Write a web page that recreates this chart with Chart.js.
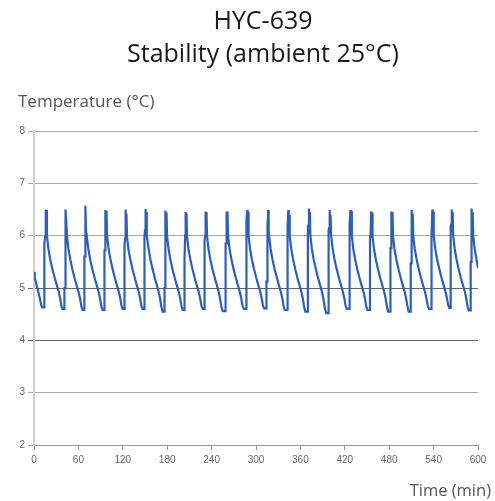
<!DOCTYPE html>
<html>
<head>
<meta charset="utf-8">
<script src="https://cdn.jsdelivr.net/npm/chart.js@4"></script>
<style>
  html, body { margin: 0; padding: 0; background: #fff; }
  #wrap { width: 495px; height: 501px; }
</style>
</head>
<body>
<div id="wrap"><canvas id="chart" width="495" height="501"></canvas></div>
<script>
const titleLines = ["HYC-639", "Stability (ambient 25°C)"];
const yTitle = "Temperature (°C)";
const xTitle = "Time (min)";

// time in minutes
const times = [
  0, 1, 3, 5, 8, 10, 11,
  13.9, 14.0, 15.0, 15.5, 16.2, 16.8, 17.5, 19.4, 21.9, 24.9, 27.9, 30.9, 33.4, 35.4, 36.9, 38.4,
  41.0, 41.1, 41.9, 42.0, 42.6, 43.2, 43.9, 44.6, 46.5, 49.0, 52.0, 55.0, 58.0, 60.5, 62.5, 64.0, 65.5,
  68.0, 68.1, 69.0, 69.1, 69.8, 70.4, 71.2, 73.5, 76.0, 79.0, 82.0, 85.0, 87.5, 89.5, 91.0, 92.6,
  95.1, 95.2, 96.0, 96.1, 96.8, 97.4, 98.0, 98.7, 100.6, 103.1, 106.1, 109.1, 112.1, 114.6, 116.6, 118.1, 119.7,
  122.2, 122.3, 123.1, 123.8, 124.4, 125.0, 125.7, 127.6, 130.1, 133.1, 136.1, 139.1, 141.6, 143.6, 145.1, 146.7,
  149.2, 149.3, 150.1, 150.8, 151.4, 152.0, 152.7, 154.6, 157.1, 160.1, 163.1, 166.1, 168.6, 170.6, 172.1, 173.8,
  176.3, 176.4, 177.1, 177.2, 177.9, 178.5, 179.1, 179.8, 181.7, 184.2, 187.2, 190.2, 193.2, 195.7, 197.7, 199.2, 200.8,
  203.3, 203.4, 204.2, 204.9, 205.5, 206.1, 206.8, 208.7, 211.2, 214.2, 217.2, 220.2, 222.7, 224.7, 226.2, 227.9,
  230.4, 230.5, 231.2, 231.9, 232.5, 233.1, 233.8, 235.7, 238.2, 241.2, 244.2, 247.2, 249.7, 251.7, 253.2, 255.0,
  258.8, 258.9, 259.7, 260.3, 260.9, 261.5, 262.2, 264.1, 266.6, 269.6, 272.6, 275.6, 278.1, 280.1, 281.6, 283.5,
  286.5, 286.6, 287.3, 287.4, 288.1, 288.7, 289.3, 290.0, 291.9, 294.4, 297.4, 300.4, 303.4, 305.9, 307.9, 309.4, 311.0,
  314.0, 314.1, 314.9, 315.0, 315.7, 315.8, 316.5, 317.1, 317.8, 319.7, 322.2, 325.2, 328.2, 331.2, 333.7, 335.7, 337.2, 338.8,
  342.0, 342.1, 342.9, 343.0, 343.7, 344.3, 344.9, 345.6, 347.5, 350.0, 353.0, 356.0, 359.0, 361.5, 363.5, 365.0, 366.6,
  370.0, 370.1, 370.9, 371.6, 372.2, 372.8, 373.5, 375.4, 377.9, 380.9, 383.9, 386.9, 389.4, 391.4, 392.9, 394.8,
  398.0, 398.1, 398.9, 399.6, 400.2, 400.8, 401.5, 403.4, 405.9, 408.9, 411.9, 414.9, 417.4, 419.4, 420.9, 422.6,
  426.0, 426.1, 426.9, 427.6, 428.2, 428.8, 429.5, 431.4, 433.9, 436.9, 439.9, 442.9, 445.4, 447.4, 448.9, 450.6,
  454.0, 454.1, 454.9, 455.6, 456.2, 456.8, 457.5, 459.4, 461.9, 464.9, 467.9, 470.9, 473.4, 475.4, 476.9, 478.6,
  481.6, 481.7, 482.5, 482.6, 483.3, 483.9, 484.5, 485.2, 487.1, 489.6, 492.6, 495.6, 498.6, 501.1, 503.1, 504.6, 506.3,
  509.0, 509.1, 509.9, 510.0, 510.7, 511.3, 511.9, 512.6, 514.5, 517.0, 520.0, 523.0, 526.0, 528.5, 530.5, 532.0, 533.8,
  536.7, 536.8, 537.6, 538.3, 538.9, 539.5, 540.2, 542.1, 544.6, 547.6, 550.6, 553.6, 556.1, 558.1, 559.6, 561.2,
  563.0, 563.1, 563.9, 564.6, 565.2, 565.8, 566.5, 568.4, 570.9, 573.9, 576.9, 579.9, 582.4, 584.4, 585.9, 587.6,
  590.0, 590.1, 590.9, 591.0, 591.6, 592.2, 592.8, 593.5, 595.4, 597.9, 600
];

// temperature in °C
const temps = [
  5.31, 5.2, 5.08, 4.97, 4.8, 4.66, 4.63,
  4.63, 5.85, 5.98, 6.5, 6.0, 6.49, 6.0, 5.76, 5.55, 5.36, 5.2, 5.05, 4.93, 4.8, 4.66, 4.6,
  4.6, 5.0, 5.0, 6.1, 6.25, 6.5, 6.2, 5.98, 5.75, 5.55, 5.35, 5.18, 5.03, 4.91, 4.78, 4.65, 4.58,
  4.58, 5.6, 5.6, 6.25, 6.57, 6.05, 6.0, 5.74, 5.54, 5.35, 5.19, 5.04, 4.92, 4.78, 4.65, 4.58,
  4.58, 5.72, 5.72, 6.3, 6.49, 6.05, 6.47, 6.0, 5.77, 5.56, 5.37, 5.2, 5.05, 4.93, 4.8, 4.67, 4.6,
  4.6, 5.8, 5.95, 6.5, 6.0, 6.42, 5.98, 5.74, 5.55, 5.36, 5.2, 5.04, 4.92, 4.79, 4.66, 4.6,
  4.6, 6.0, 6.1, 6.51, 6.0, 6.45, 6.0, 5.77, 5.56, 5.37, 5.2, 5.05, 4.92, 4.78, 4.64, 4.55,
  4.55, 5.0, 5.0, 6.1, 6.48, 6.02, 6.44, 6.0, 5.76, 5.55, 5.36, 5.19, 5.04, 4.92, 4.79, 4.66, 4.58,
  4.58, 5.55, 6.0, 6.45, 6.0, 6.43, 5.98, 5.75, 5.55, 5.36, 5.19, 5.04, 4.92, 4.79, 4.66, 4.6,
  4.6, 5.9, 6.0, 6.46, 6.0, 6.45, 6.0, 5.76, 5.55, 5.36, 5.2, 5.05, 4.92, 4.78, 4.64, 4.56,
  4.56, 5.85, 5.85, 6.46, 5.85, 6.46, 6.0, 5.76, 5.56, 5.37, 5.2, 5.05, 4.93, 4.8, 4.67, 4.6,
  4.6, 5.45, 5.45, 6.3, 6.49, 6.05, 6.45, 6.0, 5.75, 5.55, 5.36, 5.19, 5.04, 4.92, 4.79, 4.66, 4.61,
  4.61, 5.12, 5.12, 5.69, 5.69, 6.17, 6.49, 6.1, 5.98, 5.75, 5.55, 5.36, 5.2, 5.04, 4.92, 4.79, 4.66, 4.58,
  4.58, 5.5, 5.5, 6.17, 6.49, 6.05, 6.4, 6.0, 5.76, 5.56, 5.36, 5.19, 5.04, 4.92, 4.78, 4.64, 4.55,
  4.55, 6.17, 6.2, 6.52, 6.05, 6.45, 6.0, 5.76, 5.55, 5.36, 5.19, 5.04, 4.91, 4.77, 4.62, 4.52,
  4.52, 6.11, 6.15, 6.49, 6.05, 6.4, 6.0, 5.77, 5.56, 5.37, 5.2, 5.05, 4.93, 4.8, 4.67, 4.6,
  4.6, 6.17, 6.2, 6.49, 6.05, 6.47, 6.0, 5.75, 5.55, 5.36, 5.19, 5.04, 4.92, 4.79, 4.65, 4.58,
  4.58, 5.98, 6.02, 6.46, 6.0, 6.44, 5.98, 5.75, 5.55, 5.36, 5.19, 5.04, 4.92, 4.78, 4.64, 4.55,
  4.55, 5.76, 5.76, 5.98, 6.46, 6.0, 6.45, 5.98, 5.75, 5.55, 5.36, 5.19, 5.04, 4.92, 4.78, 4.65, 4.55,
  4.55, 5.47, 5.47, 5.98, 6.49, 6.0, 6.42, 5.98, 5.75, 5.55, 5.36, 5.19, 5.04, 4.92, 4.79, 4.66, 4.6,
  4.6, 5.95, 6.0, 6.5, 6.0, 6.46, 6.0, 5.76, 5.56, 5.37, 5.2, 5.05, 4.93, 4.8, 4.68, 4.62,
  4.62, 6.19, 6.22, 6.5, 6.08, 6.45, 6.0, 5.76, 5.55, 5.36, 5.19, 5.04, 4.92, 4.78, 4.64, 4.57,
  4.57, 5.5, 5.5, 6.36, 6.52, 6.1, 6.45, 6.0, 5.76, 5.55, 5.38
];

const xMin = 0, xMax = 600, xStep = 60;
const yMin = 2, yMax = 8, yStep = 1;

const texts = {
  id: "texts",
  afterDraw(chart) {
    const c = chart.ctx;
    c.save();
    c.fillStyle = "#1a1a1a";
    c.textAlign = "center";
    c.textBaseline = "middle";
    c.font = "25px 'Open Sans'";
    c.fillText(titleLines[0], 263, 22);
    c.fillText(titleLines[1], 263, 55);
    c.fillStyle = "#555";
    c.font = "17px 'Open Sans'";
    c.textAlign = "left";
    c.fillText(yTitle, 18, 102);
    c.font = "16.5px 'Open Sans'";
    c.textAlign = "right";
    c.fillText(xTitle, 491, 491);
    c.restore();
  }
};

new Chart(document.getElementById("chart"), {
  type: "line",
  data: {
    datasets: [{
      data: times.map((t, i) => ({ x: t, y: temps[i] })),
      borderColor: "#2f5fb3",
      borderWidth: 2.2,
      pointRadius: 0,
      tension: 0,
      fill: false
    }]
  },
  options: {
    responsive: false,
    animation: false,
    layout: { padding: { top: 131, right: 17, bottom: 0, left: 0 } },
    plugins: { legend: { display: false }, tooltip: { enabled: false }, title: { display: false } },
    scales: {
      x: {
        type: "linear",
        min: xMin, max: xMax,
        afterFit(s) { s.height = 56; },
        ticks: { stepSize: xStep, color: "#666", font: { family: "Liberation Sans", size: 10 }, padding: 4, maxRotation: 0 },
        grid: { drawOnChartArea: false, drawTicks: true, tickLength: 5, color: "#999" },
        border: { color: "#999", width: 1 }
      },
      y: {
        min: yMin, max: yMax,
        afterFit(s) { s.width = 34; },
        ticks: { stepSize: yStep, color: "#666", font: { family: "Liberation Sans", size: 10 }, padding: 3 },
        grid: {
          tickLength: 6,
          color: (ctx) => (ctx.tick && (ctx.tick.value === 5 || ctx.tick.value === 4)) ? "#666" : "#aaa"
        },
        border: { color: "#d0d0d0", width: 2 }
      }
    }
  },
  plugins: [texts]
});
</script>
</body>
</html>
